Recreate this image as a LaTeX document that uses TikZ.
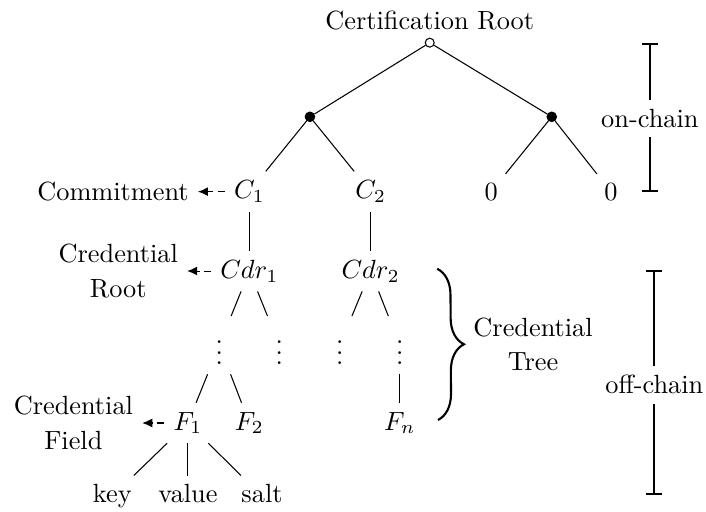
\documentclass[tikz,border=0pt]{standalone}
\usepackage{amsmath}
\usepackage{amssymb}
\usetikzlibrary{arrows.meta,decorations.pathreplacing}

\begin{document}
\begin{tikzpicture}[>={Latex[length=3.8pt,width=3.4pt]},
        dot/.style={circle,draw,fill=black,inner sep=0pt,minimum size=3.6pt},
        opendot/.style={circle,draw,fill=white,inner sep=0pt,minimum size=3.4pt},
        note/.style={align=center},
        leaf/.style={text height=6.9pt,text depth=1.9pt},
        ref/.style={->,dash pattern=on 2.7pt off 1.6pt},
        bar/.style={thick},
        brc/.style={thick,decorate,decoration={brace,amplitude=10pt}}]
        \useasboundingbox (0,0) rectangle (9.43,-6.83);

        \node[opendot] (root) at (5.74,-0.57) {};
        \node (rootlbl) at (5.74,-0.28) {Certification Root};
        \node[dot] (hl) at (4.14,-1.56) {};
        \node[dot] (hr) at (7.37,-1.56) {};

        \node (c1) at (3.33,-2.56) {$C_1$};
        \node (c2) at (4.95,-2.56) {$C_2$};
        \node (z1) at (6.56,-2.56) {$0$};
        \node (z2) at (8.16,-2.56) {$0$};
        \node (commit) at (1.51,-2.56) {Commitment};

        \node (cdr1) at (3.33,-3.62) {$Cdr_1$};
        \node (cdr2) at (4.95,-3.62) {$Cdr_2$};
        \node[note] (crdroot) at (1.58,-3.62) {Credential\\[1.2pt]Root};

        \node (v1) at (2.93,-4.61) {$\vdots$};
        \node (v2) at (3.73,-4.61) {$\vdots$};
        \node (v3) at (4.54,-4.61) {$\vdots$};
        \node (v4) at (5.34,-4.61) {$\vdots$};

        \node (f1) at (2.51,-5.65) {$F_1$};
        \node (f2) at (3.33,-5.65) {$F_2$};
        \node (fn) at (5.34,-5.65) {$F_n$};
        \node[note] (crdfield) at (0.98,-5.65) {Credential\\[1.2pt]Field};

        \node[leaf] (key) at (1.50,-6.63) {key};
        \node[leaf] (value) at (2.51,-6.63) {value};
        \node[leaf] (salt) at (3.50,-6.63) {salt};

        \path (root) edge (hl) edge (hr);
        \path (hl) edge (c1) edge (c2);
        \path (hr) edge (z1) edge (z2);
        \path (c1) edge (cdr1);
        \path (c2) edge (cdr2);
        \path (cdr1) edge (v1) edge (v2);
        \path (cdr2) edge (v3) edge (v4);
        \path (v1) edge (f1) edge (f2);
        \path (v4) edge (fn);
        \path (f1) edge (key) edge (value) edge (salt);

        \draw[ref] (c1) -- (commit);
        \draw[ref] (cdr1) -- (crdroot);
        \draw[ref] (f1) -- (crdfield);

        \coordinate (brtop) at (5.84,-3.59);
        \coordinate (brbot) at (5.85,-5.61);
        \draw[brc] (brtop) -- (brbot);
        \node[note] (crdtree) at (7.12,-4.60) {Credential\\[1.2pt]Tree};

        \coordinate (ontop) at (8.68,-0.57);
        \coordinate (onbot) at (8.68,-2.57);
        \node (onlbl) at (8.68,-1.58) {on-chain};
        \draw[bar,{Bar[width=6pt]}-] (ontop) -- (onlbl);
        \draw[bar,-{Bar[width=6pt]}] (onlbl) -- (onbot);

        \coordinate (offtop) at (8.74,-3.61);
        \coordinate (offbot) at (8.74,-6.61);
        \node (offlbl) at (8.74,-5.14) {off-chain};
        \draw[bar,{Bar[width=6pt]}-] (offtop) -- (offlbl);
        \draw[bar,-{Bar[width=6pt]}] (offlbl) -- (offbot);
\end{tikzpicture}
\end{document}
